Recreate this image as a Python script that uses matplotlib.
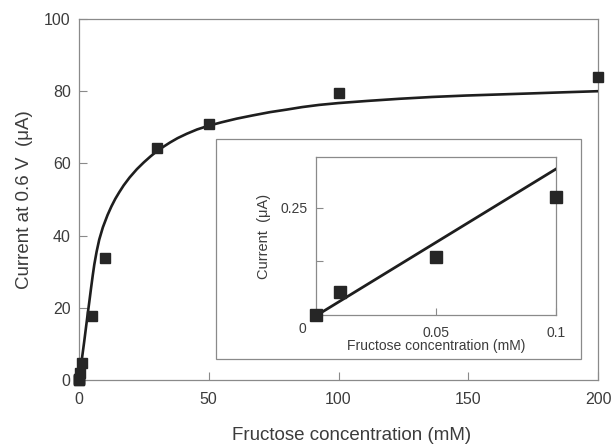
import matplotlib.pyplot as plt
from matplotlib.patches import Rectangle

# main data: measured points (mM, uA)
conc = [0, 0.01, 0.05, 0.1, 0.5, 1, 5, 10, 30, 50, 100, 200]
current = [0, 0.05, 0.14, 0.28, 2.0, 4.6, 17.8, 33.7, 64.4, 70.8, 79.6, 83.9]

# fitted curve
fit_x = [0, 0.5, 1, 1.5, 2, 2.7, 3.3, 4, 4.6, 5.3, 5.9, 6.8, 7.8, 9.2, 11,
         12.5, 14, 15.5, 17.2, 19.5, 22.3, 25, 27.5, 29.7, 32.5, 35.1, 38,
         41.5, 45.5, 49.8, 55, 60.8, 67, 73.6, 80, 86, 92.5, 99.8, 111, 123.5,
         136, 149.2, 162, 174.8, 187, 200]
fit_y = [0, 2.6, 5.2, 7.9, 10.6, 14.6, 18.0, 21.8, 25.2, 29.0, 32.0, 35.6,
         38.9, 42.3, 45.7, 48.1, 50.2, 52.0, 53.9, 56.1, 58.4, 60.3, 61.9,
         63.2, 64.6, 65.8, 67.0, 68.2, 69.4, 70.4, 71.4, 72.4, 73.3, 74.2,
         74.9, 75.6, 76.2, 76.7, 77.3, 77.9, 78.4, 78.8, 79.1, 79.4, 79.7, 80.0]

# inset: low concentration range
ins_conc = [0, 0.01, 0.05, 0.1]
ins_current = [0, 0.054, 0.136, 0.276]
ins_line_x = [0.002, 0.1]
ins_line_y = [0.005, 0.341]

txt = '#3c3c3c'
frame = '#8a8a8a'
plt.rcParams['font.family'] = ['Liberation Sans', 'DejaVu Sans']
plt.rcParams['text.color'] = txt

fig = plt.figure(figsize=(6.13, 4.46), dpi=100)
ax = fig.add_axes([79 / 613, 66 / 446, 519 / 613, 361 / 446])

ax.plot(fit_x, fit_y, color='#1e1e1e', lw=1.9, zorder=3, solid_joinstyle='round')
ax.plot(conc, current, 's', color='#262626', ms=6.5, zorder=4, clip_on=False)

ax.set_xlim(0, 200)
ax.set_ylim(0, 100)
ax.set_xticks([0, 50, 100, 150, 200])
ax.set_yticks([0, 20, 40, 60, 80, 100])
ax.tick_params(direction='in', length=6, width=0.8, color=frame, labelsize=11.5,
               labelcolor=txt)
ax.tick_params(axis='x', pad=9)
ax.tick_params(axis='y', pad=6)
for s in ax.spines.values():
    s.set_color(frame)
    s.set_linewidth(0.9)
ax.set_xlabel('Fructose concentration (mM)', fontsize=13.5, color=txt)
ax.xaxis.set_label_coords(0.525, -0.13)
ax.set_ylabel('Current at 0.6 V  (\u03bcA)', fontsize=13.5, color=txt, labelpad=8)

# white box behind the inset
box = Rectangle((216 / 613, 1 - 359 / 446), 365 / 613, 220 / 446,
                transform=fig.transFigure, facecolor='white', edgecolor=frame,
                lw=0.9, zorder=5)
fig.add_artist(box)

ins = fig.add_axes([316 / 613, 131 / 446, 240 / 613, 158 / 446])
ins.set_zorder(6)
ins.plot(ins_line_x, ins_line_y, color='#1e1e1e', lw=2.0, zorder=3)
ins.plot(ins_conc, ins_current, 's', color='#262626', ms=8, zorder=4, clip_on=False)
ins.set_xlim(0, 0.1)
ins.set_ylim(0, 0.369)
ins.set_xticks([0, 0.05, 0.1])
ins.set_xticklabels(['', '0.05', '0.1'])
ins.set_yticks([0, 0.125, 0.25])
ins.set_yticklabels(['', '', '0.25'])
ins.tick_params(direction='in', length=5, width=0.8, color=frame, labelsize=10,
                labelcolor=txt)
ins.tick_params(axis='x', pad=8)
ins.tick_params(axis='y', pad=6)
for s in ins.spines.values():
    s.set_color(frame)
    s.set_linewidth(0.9)
ins.annotate('0', xy=(0, 0), xycoords='axes fraction', xytext=(-9.5, -10),
             textcoords='offset points', ha='center', va='center', fontsize=10,
             color=txt)
ins.set_xlabel('Fructose concentration (mM)', fontsize=10, color=txt, labelpad=-1)
ins.set_ylabel('Current  (\u03bcA)', fontsize=10.5, color=txt, labelpad=7)

fig.savefig('out.png', dpi=100)
